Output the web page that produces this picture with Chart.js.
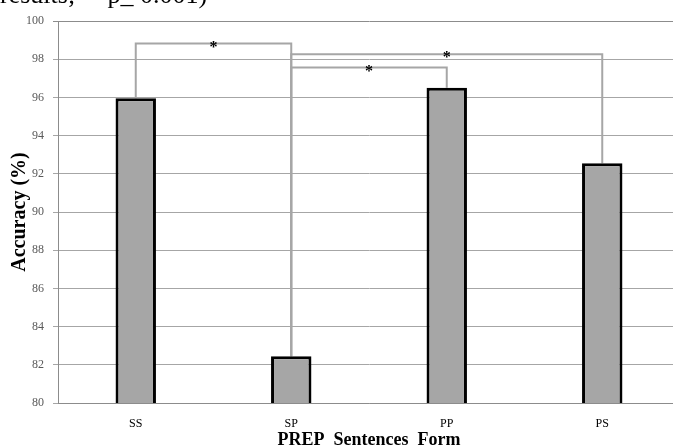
<!DOCTYPE html>
<html><head><meta charset="utf-8">
<script src="https://cdn.jsdelivr.net/npm/chart.js@4/dist/chart.umd.min.js"></script>
<style>html,body{margin:0;padding:0;overflow:hidden;background:#fff;width:673px;height:447px}canvas{display:block}</style>
</head><body><canvas id="c" width="690" height="447"></canvas>
<script>
const categories = ['SS', 'SP', 'PP', 'PS'];
const accuracy = [95.95, 82.45, 96.5, 92.55];
const yTicks = [80, 82, 84, 86, 88, 90, 92, 94, 96, 98, 100];
const bracketFrom = [0, 1, 1];
const bracketTo = [1, 3, 2];
const bracketLevel = [98.82, 98.26, 97.56];
const bracketLabel = ['*', '*', '*'];
const headerText = 'results;     p_ 0.001)';
const xTitle = 'PREP  Sentences  Form';
const yTitle = 'Accuracy (%)';

const SERIF = '"Liberation Serif", "Times New Roman", serif';

const extras = {
  id: 'extras',
  beforeDatasetsDraw(chart) {
    const {ctx, scales: {x, y}} = chart;
    ctx.save();
    ctx.strokeStyle = '#a6a6a6';
    ctx.lineWidth = 2;
    for (let i = 0; i < bracketFrom.length; i++) {
      const x1 = x.getPixelForValue(bracketFrom[i]);
      const x2 = x.getPixelForValue(bracketTo[i]);
      const yl = y.getPixelForValue(bracketLevel[i]);
      const y1 = y.getPixelForValue(accuracy[bracketFrom[i]]);
      const y2 = y.getPixelForValue(accuracy[bracketTo[i]]);
      ctx.beginPath();
      ctx.moveTo(x1, y1);
      ctx.lineTo(x1, yl);
      ctx.lineTo(x2, yl);
      ctx.lineTo(x2, y2);
      ctx.stroke();
    }
    ctx.restore();
  },
  afterDraw(chart) {
    const {ctx, scales: {x, y}} = chart;
    ctx.save();
    ctx.fillStyle = '#000';
    ctx.font = 'bold 16px ' + SERIF;
    ctx.textAlign = 'center';
    ctx.textBaseline = 'alphabetic';
    for (let i = 0; i < bracketFrom.length; i++) {
      const xm = (x.getPixelForValue(bracketFrom[i]) + x.getPixelForValue(bracketTo[i])) / 2;
      const yl = y.getPixelForValue(bracketLevel[i]);
      ctx.fillText(bracketLabel[i], xm, yl + 8);
    }
    ctx.font = '26px ' + SERIF;
    ctx.textAlign = 'left';
    ctx.fillText(headerText, 0, 3);
    ctx.restore();
  }
};

new Chart(document.getElementById('c'), {
  type: 'bar',
  data: {
    labels: categories,
    datasets: [{
      data: accuracy,
      backgroundColor: '#a6a6a6',
      borderColor: '#000',
      borderWidth: 3,
      borderSkipped: false,
      categoryPercentage: 1,
      barPercentage: 0.26
    }]
  },
  options: {
    responsive: false,
    animation: false,
    events: [],
    layout: {padding: {top: 21, right: 10, left: 0, bottom: 0}},
    plugins: {legend: {display: false}, tooltip: {enabled: false}},
    scales: {
      x: {
        grid: {display: false, drawTicks: false},
        border: {display: true, color: '#8c8c8c', width: 1},
        ticks: {color: '#000', font: {family: SERIF, size: 12}, padding: 14},
        title: {display: true, text: xTitle, color: '#000', font: {family: SERIF, size: 18, weight: 'bold', lineHeight: 1}, padding: {top: 0, bottom: -2}},
        afterFit(s) { s.height = 44; }
      },
      y: {
        min: 80, max: 100,
        afterBuildTicks(s) { s.ticks = yTicks.map(v => ({value: v})); },
        grid: {
          color: (c) => c.tick && c.tick.value === 100 ? '#8c8c8c' : '#a6a6a6',
          lineWidth: 1,
          tickLength: 5,
          drawTicks: true
        },
        border: {display: true, color: '#8c8c8c', width: 1},
        ticks: {color: '#595959', font: {family: SERIF, size: 12}, padding: 9},
        title: {display: true, text: yTitle, color: '#000', font: {family: SERIF, size: 20, weight: 'bold', lineHeight: 1}, padding: {top: 10, bottom: 0}},
        afterFit(s) { s.width = 58; }
      }
    }
  },
  plugins: [extras]
});
</script>
</body></html>
